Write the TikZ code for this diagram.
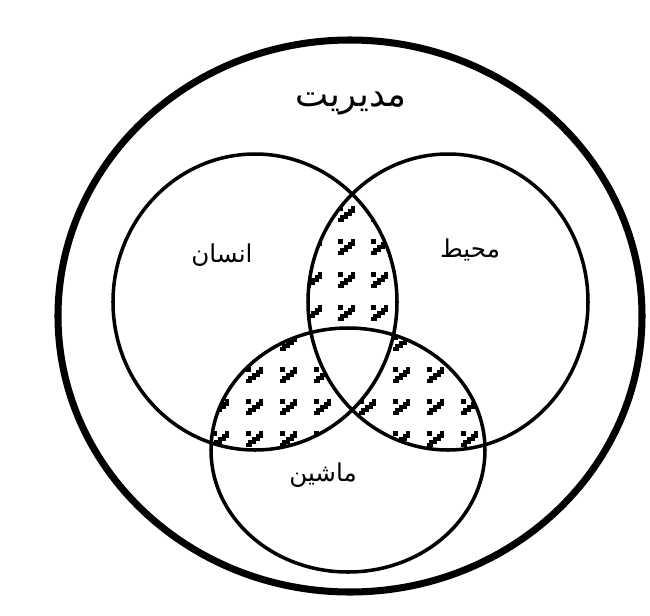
\documentclass[tikz,border=0pt]{standalone}
\usepackage{fontspec}
\newfontfamily\persfont[Script=Arabic]{DejaVu Sans}
\TeXXeTstate=1

\newcommand{\outerset}{(350,316) ellipse [x radius=292,y radius=276]}
\newcommand{\humanset}{(255,302) ellipse [x radius=142,y radius=148]}
\newcommand{\envset}{(448,302) ellipse [x radius=140,y radius=148]}
\newcommand{\machset}{(348,450) ellipse [x radius=137,y radius=122]}

\begin{document}
\begin{tikzpicture}[
  x=0.02cm,y=-0.02cm,
  ring/.style={draw=black,line width=#1},
  lab/.style={font=\persfont\fontsize{#1}{#1}\selectfont,inner sep=0pt},
  zmark/.pic={
    \fill (-8,-8) rectangle (-3,-3);
    \draw[line width=2.3pt] (-8,6) -| (-4,3) -| (0,0) -| (4,-3) -| (7,-6) -- (9,-6);
  }]

  \useasboundingbox (0,0) rectangle (650,616);

  % ---- shaded overlaps ----
  \begin{scope}
    \clip \humanset; \clip \envset;
    \foreach \x in {313,346,379}
      \foreach \y in {214,247,280,313}
        \pic at (\x,\y) {zmark};
  \end{scope}
  \begin{scope}
    \clip \humanset; \clip \machset;
    \foreach \x in {220,254,288,322}
      \foreach \y in {343,375,407,439}
        \pic at (\x,\y) {zmark};
  \end{scope}
  \begin{scope}
    \clip \envset; \clip \machset;
    \foreach \x in {367,401,435,469,503}
      \foreach \y in {343,375,407,439}
        \pic at (\x,\y) {zmark};
  \end{scope}

  % centre stays blank
  \begin{scope}
    \clip \humanset; \clip \envset;
    \fill[white] \machset;
  \end{scope}

  % ---- circles ----
  \draw[ring=4pt] \outerset;
  \draw[ring=2pt] \humanset;
  \draw[ring=2pt] \envset;
  \draw[ring=2pt] \machset;

  % ---- labels ----
  \node[lab=20] (modiriat) at (351,103) {\beginR مدیریت\endR};
  \node[lab=14] (ensan) at (222,255) {\beginR انسان\endR};
  \node[lab=14] (mohit) at (470,250) {\beginR محیط\endR};
  \node[lab=14] (mashin) at (323,475) {\beginR ماشین\endR};
\end{tikzpicture}
\end{document}
